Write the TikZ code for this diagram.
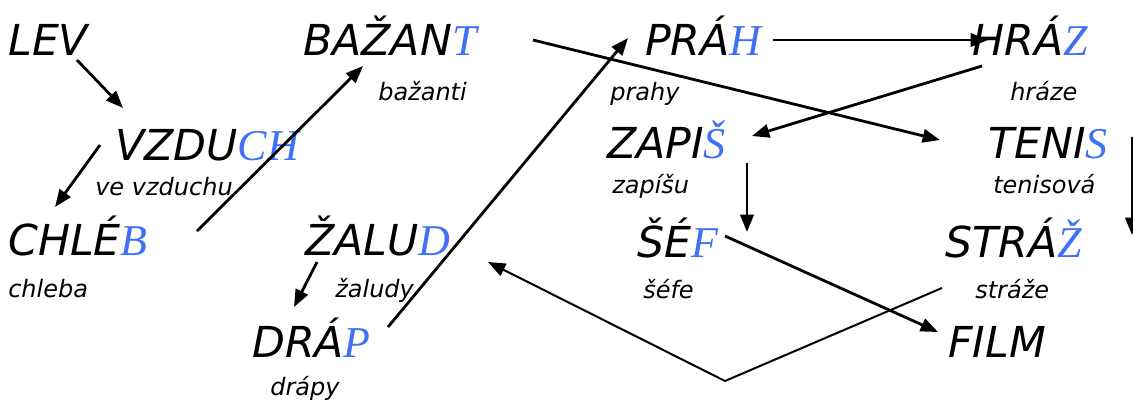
\documentclass[tikz,border=0pt]{standalone}
\usepackage{fontspec}
\setmainfont{DejaVu Sans}
\newfontfamily\tailfont{Liberation Serif}
\usetikzlibrary{arrows.meta}
\definecolor{tailblue}{RGB}{64,112,245}
\def\tl#1{{\tailfont\itshape\fontsize{33}{33}\selectfont\color{tailblue}#1}}
\tikzset{
	word/.style={anchor=base west, inner sep=0pt, font=\fontsize{32}{32}\selectfont\itshape},
	form/.style={anchor=base west, inner sep=0pt, font=\fontsize{18}{18}\selectfont\itshape},
	link/.style={line width=2.1pt, -{Triangle[length=13pt,width=10pt]}},
	thinlink/.style={line width=1.5pt, -{Triangle[length=13pt,width=10pt]}}
}

\begin{document}
\begin{tikzpicture}[x=0.75pt, y=-0.75pt]
			%%%%% WORDS %%%%%
			\useasboundingbox (0, 0) rectangle (1133, 405);
			\clip (0, 0) rectangle (1133, 405);
			
			\node[word] (lev) at (8, 55) {LEV};
			\node[word] (vzduch) at (115, 160) {VZDU\tl{CH}};
			\node[form] (vevzduchu) at (95, 195) {ve vzduchu};
			\node[word] (chleb) at (8, 255) {CHLÉ\tl{B}};
			\node[form] (chleba) at (8, 297) {chleba};
			
			\node[word] (bazant) at (303, 55) {BAŽAN\tl{T}};
			\node[form] (bazanti) at (378, 100) {bažanti};
			\node[word] (zalud) at (305, 255) {ŽALU\tl{D}};
			\node[form] (zaludy) at (335, 297) {žaludy};
			\node[word] (drap) at (252, 357) {DRÁ\tl{P}};
			\node[form] (drapy) at (270, 395) {drápy};
			
			\node[word] (prah) at (645, 55) {PRÁ\tl{H}};
			\node[form] (prahy) at (610, 100) {prahy};
			\node[word] (zapis) at (607, 158) {ZAPI\tl{Š}};
			\node[form] (zapisu) at (612, 193) {zapíšu};
			\node[word] (sef) at (637, 257) {ŠÉ\tl{F}};
			\node[form] (sefe) at (643, 298) {šéfe};
			
			\node[word] (hraz) at (972, 55) {HRÁ\tl{Z}};
			\node[form] (hraze) at (1010, 100) {hráze};
			\node[word] (tenis) at (988, 158) {TENI\tl{S}};
			\node[form] (tenisova) at (993, 193) {tenisová};
			\node[word] (straz) at (945, 257) {STRÁ\tl{Ž}};
			\node[form] (straze) at (975, 298) {stráže};
			\node[word] (film) at (948, 357) {FILM};
			
			%%%%% ARROWS %%%%%
			\draw[link] ([shift={(69,5)}]lev.base west) -- ([shift={(8,-52)}]vzduch.base west);
			\draw[link] ([shift={(-15,-15)}]vzduch.base west) -- ([shift={(47,-48)}]chleb.base west);
			\draw[link] ([shift={(189,-24)}]chleb.base west) -- ([shift={(60,11)}]bazant.base west);
			\draw[link] ([shift={(230,-15)}]bazant.base west) -- ([shift={(-48,-18)}]tenis.base west);
			
			\draw[link] ([shift={(12,7)}]zalud.base west) -- ([shift={(42,-50)}]drap.base west);
			\draw[link] ([shift={(136,-30)}]drap.base west) -- ([shift={(-17,-17)}]prah.base west);
			\draw[link] ([shift={(128,-15)}]prah.base west) -- ([shift={(16,-15)}]hraz.base west);
			\draw[link] ([shift={(10,11)}]hraz.base west) -- ([shift={(145,-22)}]zapis.base west);
			
			\draw[link] ([shift={(140,5)}]zapis.base west) -- ([shift={(110,-25)}]sef.base west);
			\draw[link] ([shift={(88,-21)}]sef.base west) -- ([shift={(-10,-25)}]film.base west);
			\draw[link] ([shift={(144,-21)}]tenis.base west) -- ([shift={(187,-22)}]straz.base west);
			
			\coordinate (bend) at (725, 381);
			\draw[thinlink] ([shift={(-3,31)}]straz.base west) -- (bend) -- ([shift={(183,7)}]zalud.base west);
			
			%%%%% END %%%%%
\end{tikzpicture}
\end{document}
